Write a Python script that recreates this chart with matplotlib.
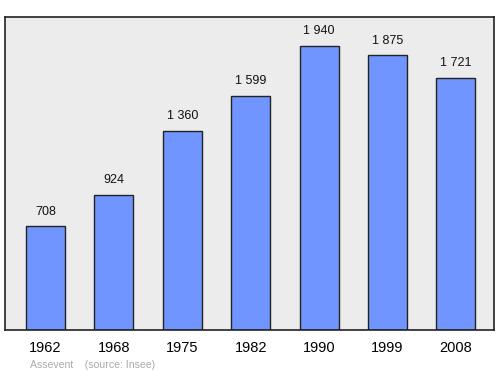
import matplotlib.pyplot as plt

plt.rcParams['font.family'] = ['Liberation Sans', 'DejaVu Sans']

years = ["1962", "1968", "1975", "1982", "1990", "1999", "2008"]
population = [708, 924, 1360, 1599, 1940, 1875, 1721]
value_labels = ["708", "924", "1 360", "1 599", "1 940", "1 875", "1 721"]

fig = plt.figure(figsize=(5, 3.74), dpi=100)
ax = fig.add_axes([0.01, 0.1176, 0.978, 0.837])
ax.set_facecolor("#ececec")

x = list(range(len(years)))
ax.bar(x, population, width=0.57, color="#7095fe", edgecolor="#222222", linewidth=1, zorder=2)

for xi, v, lab in zip(x, population, value_labels):
    ax.text(xi, v + 60, lab, ha="center", va="bottom", fontsize=9, color="#111111")

ax.set_xlim(-0.592, 6.557)
ax.set_ylim(0, 2138)
ax.set_yticks([])
ax.set_xticks(x)
ax.set_xticklabels(years, fontsize=10.5)
ax.tick_params(axis="x", length=0, pad=8)
for s in ax.spines.values():
    s.set_linewidth(1.2)
    s.set_color("#222222")

fig.text(0.06, 0.024, "Assevent    (source: Insee)", fontsize=7.6, color="#aaaaaa", va="center")

fig.savefig("out.png", dpi=100)
